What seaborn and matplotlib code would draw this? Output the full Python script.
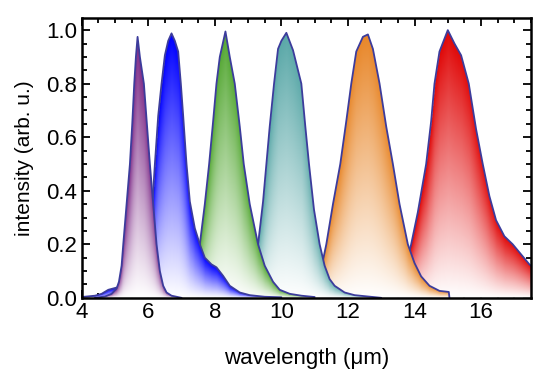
import numpy as np
import pandas as pd
import seaborn as sns
import matplotlib.pyplot as plt
from matplotlib.patches import Polygon
from matplotlib.ticker import MultipleLocator
from matplotlib.colors import to_rgb

# spectra (wavelength in um, normalised intensity)
purple_x = [4.4, 4.7, 4.9, 5.05, 5.12, 5.2, 5.25, 5.35, 5.45, 5.52, 5.58, 5.63, 5.68, 5.75, 5.87, 5.96, 6.05, 6.15, 6.25, 6.35, 6.45, 6.55, 6.7, 7.0]
purple_y = [0.0, 0.005, 0.015, 0.035, 0.06, 0.12, 0.2, 0.35, 0.5, 0.65, 0.8, 0.9, 0.975, 0.9, 0.8, 0.65, 0.5, 0.35, 0.2, 0.1, 0.045, 0.02, 0.008, 0.0]

blue_x = [4.0, 4.4, 4.6, 4.8, 4.95, 5.1, 5.3, 5.5, 5.8, 6.0, 6.1, 6.2, 6.3, 6.4, 6.5, 6.6, 6.7, 6.8, 6.9, 6.98, 7.05, 7.15, 7.25, 7.4, 7.55, 7.7, 7.9, 8.05, 8.25, 8.45, 8.75, 9.05, 9.5, 10.0]
blue_y = [0.003, 0.008, 0.015, 0.03, 0.035, 0.04, 0.05, 0.07, 0.12, 0.2, 0.3, 0.5, 0.68, 0.8, 0.906, 0.96, 0.988, 0.96, 0.92, 0.8, 0.68, 0.5, 0.36, 0.26, 0.2, 0.15, 0.125, 0.114, 0.082, 0.045, 0.02, 0.01, 0.004, 0.002]

green_x = [6.8, 7.1, 7.3, 7.45, 7.55, 7.7, 7.83, 7.95, 8.05, 8.15, 8.32, 8.45, 8.6, 8.75, 8.87, 9.05, 9.3, 9.5, 9.75, 9.95, 10.25, 10.6, 11.0]
green_y = [0.0, 0.01, 0.04, 0.1, 0.2, 0.35, 0.5, 0.66, 0.8, 0.9, 0.995, 0.9, 0.8, 0.64, 0.5, 0.35, 0.2, 0.12, 0.06, 0.03, 0.015, 0.008, 0.003]

teal_x = [8.6, 8.85, 9.0, 9.15, 9.3, 9.45, 9.55, 9.65, 9.78, 9.9, 10.0, 10.15, 10.35, 10.5, 10.6, 10.72, 10.83, 10.98, 11.15, 11.3, 11.45, 11.6, 11.9, 12.2, 12.6, 13.0]
teal_y = [0.0, 0.015, 0.04, 0.1, 0.2, 0.36, 0.5, 0.64, 0.8, 0.93, 0.96, 0.99, 0.925, 0.85, 0.8, 0.64, 0.5, 0.33, 0.2, 0.12, 0.07, 0.045, 0.02, 0.01, 0.005, 0.0]

orange_x = [10.5, 10.9, 11.1, 11.25, 11.35, 11.55, 11.77, 11.95, 12.1, 12.25, 12.45, 12.6, 12.75, 12.95, 13.15, 13.35, 13.55, 13.8, 14.0, 14.2, 14.45, 14.75, 15.03, 15.05]
orange_y = [0.0, 0.02, 0.07, 0.14, 0.2, 0.35, 0.5, 0.66, 0.8, 0.92, 0.975, 0.984, 0.93, 0.8, 0.64, 0.5, 0.35, 0.2, 0.13, 0.08, 0.045, 0.026, 0.022, 0.0]

red_x = [12.5, 13.0, 13.4, 13.7, 13.9, 14.1, 14.35, 14.5, 14.6, 14.75, 15.0, 15.2, 15.4, 15.63, 15.85, 16.05, 16.25, 16.45, 16.7, 16.95, 17.15, 17.45, 17.6]
red_y = [0.0, 0.01, 0.04, 0.1, 0.2, 0.32, 0.5, 0.66, 0.8, 0.92, 1.0, 0.95, 0.906, 0.8, 0.63, 0.5, 0.38, 0.29, 0.23, 0.2, 0.17, 0.125, 0.11]

names = ['purple', 'blue', 'green', 'teal', 'orange', 'red']
colors = ['#7d2a87', '#0000ff', '#55a834', '#5aa8a8', '#e8872a', '#e00808']
xs = [purple_x, blue_x, green_x, teal_x, orange_x, red_x]
ys = [purple_y, blue_y, green_y, teal_y, orange_y, red_y]

df = pd.concat([pd.DataFrame({'wavelength': x, 'intensity': y, 'peak': n})
                for n, x, y in zip(names, xs, ys)], ignore_index=True)

sns.set_theme(style='ticks')
plt.rcParams['font.family'] = ['Liberation Sans', 'DejaVu Sans']
plt.rcParams.update({'text.color': 'black', 'axes.labelcolor': 'black',
                     'xtick.color': 'black', 'ytick.color': 'black'})

fig = plt.figure(figsize=(5.48, 3.77), dpi=100)
ax = fig.add_axes([0.149, 0.21, 0.820, 0.742])

edge = '#3c3c9c'
for i, (n, c) in enumerate(zip(names, colors)):
    d = df[df['peak'] == n]
    x = d['wavelength'].to_numpy()
    y = d['intensity'].to_numpy()
    z = 10 - i
    # gradient fill: white at the baseline -> full colour at the curve
    gx = np.linspace(x.min(), x.max(), 500)
    gy = np.linspace(0, y.max(), 300)
    X, Y = np.meshgrid(gx, gy)
    f = np.interp(X, x, y)
    r = np.clip(Y / np.maximum(f, 1e-6), 0, 1)
    rgb = np.array(to_rgb(c))
    img = np.ones(r.shape + (4,))
    img[..., :3] = 1 - (1 - rgb) * r[..., None]
    img[..., 3] = np.where(Y <= f + 0.01, 1.0, 0.0)
    im = ax.imshow(img, extent=(x.min(), x.max(), 0, y.max()), origin='lower',
                   aspect='auto', interpolation='bilinear', zorder=z)
    poly = Polygon(np.column_stack([np.r_[x, x[-1], x[0]], np.r_[y, 0, 0]]),
                   closed=True, facecolor='none', edgecolor='none')
    ax.add_patch(poly)
    im.set_clip_path(poly)
    sns.lineplot(data=d, x='wavelength', y='intensity', ax=ax, color=edge,
                 lw=1.3, zorder=z + 0.5)

ax.set_xlim(4, 17.5)
ax.set_ylim(0, 1.045)
ax.xaxis.set_major_locator(MultipleLocator(2))
ax.xaxis.set_minor_locator(MultipleLocator(0.5))
ax.yaxis.set_major_locator(MultipleLocator(0.2))
ax.yaxis.set_minor_locator(MultipleLocator(0.05))
ax.tick_params(which='both', direction='in', top=True, right=True,
               labelsize=16, width=1.3)
ax.tick_params(which='major', length=6, pad=3)
ax.tick_params(which='minor', length=3.5)
for s in ax.spines.values():
    s.set_linewidth(1.8)
    s.set_color('black')
    s.set_zorder(20)

ax.set_xlabel('wavelength (μm)', fontsize=16, labelpad=18)
ax.set_ylabel('intensity (arb. u.)', fontsize=15, labelpad=9)

fig.savefig('out.png', dpi=100)
